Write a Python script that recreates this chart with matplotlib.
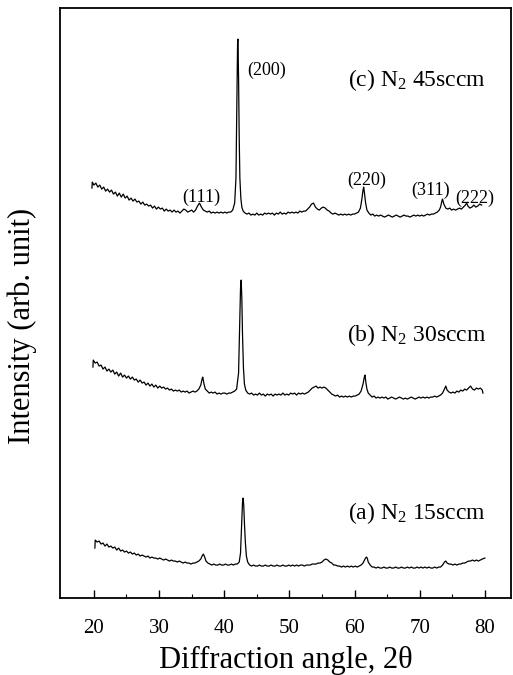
import matplotlib
matplotlib.use("Agg")
import matplotlib.pyplot as plt

plt.rcParams["font.family"] = ["Liberation Serif", "DejaVu Serif"]
plt.rcParams["mathtext.fontset"] = "custom"
plt.rcParams["mathtext.rm"] = "Liberation Serif"
plt.rcParams["mathtext.it"] = "Liberation Serif:italic"

# --- XRD patterns: (2theta, intensity in arb. unit) ---
pattern_a = [
    (20.15, 50), (20.2, 58), (20.5, 56), (20.8, 57), (21.1, 54), (21.4, 55), (21.7, 52),
    (22.0, 54), (22.3, 51), (22.6, 52), (22.9, 50), (23.2, 51), (23.5, 48), (23.8, 50),
    (24.1, 47), (24.4, 48), (24.7, 46), (25.0, 47), (25.3, 45), (25.6, 46), (25.9, 44),
    (26.2, 45), (26.5, 43), (26.8, 44), (27.1, 42), (27.4, 43), (27.7, 42), (28.0, 41),
    (28.3, 42), (28.6, 40), (28.9, 41), (29.2, 40), (29.5, 40), (29.8, 39), (30.1, 40),
    (30.4, 39), (30.7, 38), (31.0, 39), (31.3, 38), (31.6, 37), (31.9, 38), (32.2, 37),
    (32.5, 37), (32.8, 36), (33.1, 37), (33.4, 36), (33.7, 35), (34.0, 36), (34.3, 35),
    (34.6, 35), (34.9, 34), (35.2, 35), (35.5, 35), (35.8, 36), (36.1, 37), (36.4, 39),
    (36.6, 42), (36.8, 44), (37.0, 41), (37.2, 37), (37.5, 35), (37.8, 34), (38.1, 33),
    (38.4, 34), (38.7, 33), (39.0, 33), (39.3, 34), (39.6, 33), (39.9, 33), (40.2, 34),
    (40.5, 33), (40.8, 33), (41.1, 34), (41.4, 33), (41.7, 34), (42.0, 34), (42.3, 36),
    (42.5, 45), (42.65, 70), (42.8, 95), (42.9, 100), (43.0, 92), (43.1, 75), (43.25, 55),
    (43.4, 42), (43.6, 36), (43.9, 33), (44.2, 32), (44.5, 33), (44.8, 32), (45.1, 32),
    (45.4, 33), (45.7, 32), (46.0, 32), (46.3, 33), (46.6, 32), (46.9, 32), (47.2, 33),
    (47.5, 32), (47.8, 32), (48.1, 33), (48.4, 32), (48.7, 32), (49.0, 33), (49.3, 32),
    (49.6, 32), (49.9, 33), (50.2, 32), (50.5, 33), (50.8, 32), (51.1, 33), (51.4, 32),
    (51.7, 33), (52.0, 33), (52.3, 32), (52.6, 33), (52.9, 33), (53.2, 33), (53.5, 34),
    (53.8, 34), (54.1, 34), (54.4, 35), (54.7, 35), (55.0, 36), (55.3, 38), (55.6, 39),
    (55.9, 38), (56.2, 36), (56.5, 35), (56.8, 33), (57.1, 33), (57.4, 32), (57.7, 32),
    (58.0, 31), (58.3, 32), (58.6, 31), (58.9, 32), (59.2, 31), (59.5, 32), (59.8, 31),
    (60.1, 32), (60.4, 31), (60.7, 32), (61.0, 33), (61.3, 35), (61.6, 39), (61.8, 41),
    (61.95, 40), (62.1, 36), (62.4, 33), (62.7, 31), (63.0, 31), (63.3, 30), (63.6, 31),
    (63.9, 30), (64.2, 30), (64.5, 31), (64.8, 30), (65.1, 30), (65.4, 31), (65.7, 30),
    (66.0, 30), (66.3, 31), (66.6, 30), (66.9, 30), (67.2, 31), (67.5, 30), (67.8, 30),
    (68.1, 31), (68.4, 30), (68.7, 31), (69.0, 30), (69.3, 30), (69.6, 31), (69.9, 30),
    (70.2, 31), (70.5, 30), (70.8, 31), (71.1, 30), (71.4, 31), (71.7, 30), (72.0, 30),
    (72.3, 31), (72.6, 30), (72.9, 31), (73.2, 31), (73.5, 33), (73.8, 36), (74.0, 37),
    (74.2, 35), (74.5, 34), (74.8, 34), (75.1, 33), (75.4, 34), (75.7, 33), (76.0, 34),
    (76.3, 34), (76.6, 35), (76.9, 35), (77.2, 36), (77.5, 37), (77.8, 37), (78.1, 38),
    (78.4, 37), (78.7, 38), (79.0, 37), (79.3, 38), (79.6, 39), (80.0, 40),
]

pattern_b = [
    (19.85, 231), (19.9, 238), (20.2, 235), (20.5, 236), (20.8, 232), (21.1, 233), (21.4, 229),
    (21.7, 231), (22.0, 227), (22.3, 229), (22.6, 226), (22.9, 228), (23.2, 224), (23.5, 226),
    (23.8, 222), (24.1, 225), (24.4, 221), (24.7, 223), (25.0, 220), (25.3, 222), (25.6, 219),
    (25.9, 221), (26.2, 218), (26.5, 219), (26.8, 216), (27.1, 218), (27.4, 215), (27.7, 216),
    (28.0, 213), (28.3, 215), (28.6, 212), (28.9, 214), (29.2, 211), (29.5, 213), (29.8, 210),
    (30.1, 212), (30.4, 210), (30.7, 211), (31.0, 209), (31.3, 210), (31.6, 208), (31.9, 209),
    (32.2, 207), (32.5, 208), (32.8, 207), (33.1, 208), (33.4, 206), (33.7, 207), (34.0, 206),
    (34.3, 207), (34.6, 205), (34.9, 206), (35.2, 207), (35.5, 206), (35.8, 207), (36.1, 209),
    (36.4, 213), (36.6, 219), (36.7, 221), (36.9, 214), (37.1, 209), (37.4, 207), (37.7, 205),
    (38.0, 206), (38.3, 205), (38.6, 206), (38.9, 204), (39.2, 205), (39.5, 204), (39.8, 205),
    (40.1, 205), (40.4, 204), (40.7, 205), (41.0, 205), (41.3, 206), (41.6, 207), (41.9, 209),
    (42.2, 225), (42.35, 270), (42.5, 310), (42.6, 318), (42.7, 300), (42.8, 265), (42.95, 230),
    (43.1, 214), (43.3, 208), (43.6, 205), (43.9, 204), (44.2, 205), (44.5, 203), (44.8, 204),
    (45.1, 203), (45.4, 205), (45.7, 203), (46.0, 204), (46.3, 202), (46.6, 204), (46.9, 203),
    (47.2, 204), (47.5, 202), (47.8, 204), (48.1, 203), (48.4, 204), (48.7, 203), (49.0, 205),
    (49.3, 203), (49.6, 204), (49.9, 203), (50.2, 205), (50.5, 204), (50.8, 205), (51.1, 203),
    (51.4, 205), (51.7, 204), (52.0, 205), (52.3, 204), (52.6, 205), (52.9, 206), (53.2, 208),
    (53.5, 210), (53.8, 211), (54.1, 212), (54.4, 210), (54.7, 211), (55.0, 210), (55.3, 211),
    (55.6, 210), (55.9, 208), (56.2, 206), (56.5, 204), (56.8, 203), (57.1, 202), (57.4, 203),
    (57.7, 201), (58.0, 202), (58.3, 201), (58.6, 202), (58.9, 201), (59.2, 202), (59.5, 201),
    (59.8, 202), (60.1, 202), (60.4, 203), (60.7, 204), (61.0, 207), (61.3, 214), (61.5, 221),
    (61.6, 223), (61.75, 215), (61.9, 209), (62.1, 205), (62.4, 203), (62.7, 201), (63.0, 202),
    (63.3, 200), (63.6, 201), (63.9, 200), (64.2, 201), (64.5, 200), (64.8, 201), (65.1, 199),
    (65.4, 200), (65.7, 201), (66.0, 200), (66.3, 199), (66.6, 200), (66.9, 201), (67.2, 200),
    (67.5, 199), (67.8, 200), (68.1, 199), (68.4, 200), (68.7, 201), (69.0, 200), (69.3, 199),
    (69.6, 200), (69.9, 201), (70.2, 200), (70.5, 201), (70.8, 200), (71.1, 201), (71.4, 200),
    (71.7, 201), (72.0, 201), (72.3, 202), (72.6, 201), (72.9, 202), (73.2, 203), (73.5, 205),
    (73.8, 209), (74.0, 212), (74.2, 208), (74.5, 206), (74.8, 205), (75.1, 206), (75.4, 205),
    (75.7, 207), (76.0, 206), (76.3, 208), (76.6, 207), (76.9, 209), (77.2, 208), (77.5, 210),
    (77.8, 212), (78.1, 209), (78.4, 208), (78.7, 210), (79.0, 209), (79.3, 210), (79.6, 208),
    (79.7, 205),
]

pattern_c = [
    (19.7, 410), (19.75, 416), (20.0, 413), (20.3, 415), (20.6, 411), (20.9, 413), (21.2, 409),
    (21.5, 411), (21.8, 407), (22.1, 409), (22.4, 406), (22.7, 408), (23.0, 404), (23.3, 406),
    (23.6, 402), (23.9, 405), (24.2, 401), (24.5, 404), (24.8, 400), (25.1, 402), (25.4, 398),
    (25.7, 400), (26.0, 397), (26.3, 399), (26.6, 396), (26.9, 397), (27.2, 394), (27.5, 396),
    (27.8, 393), (28.1, 394), (28.4, 392), (28.7, 393), (29.0, 390), (29.3, 392), (29.6, 389),
    (29.9, 391), (30.2, 389), (30.5, 390), (30.8, 387), (31.1, 389), (31.4, 387), (31.7, 388),
    (32.0, 386), (32.3, 388), (32.6, 386), (32.9, 387), (33.2, 385), (33.5, 387), (33.8, 389),
    (34.1, 388), (34.4, 386), (34.7, 387), (35.0, 388), (35.3, 386), (35.6, 388), (35.9, 392),
    (36.2, 395), (36.5, 391), (36.8, 388), (37.1, 387), (37.4, 386), (37.7, 387), (38.0, 385),
    (38.3, 386), (38.6, 385), (38.9, 386), (39.2, 385), (39.5, 386), (39.8, 385), (40.1, 386),
    (40.4, 385), (40.7, 386), (41.0, 386), (41.3, 388), (41.6, 395), (41.8, 420), (41.95, 500),
    (42.05, 556), (42.1, 559), (42.2, 520), (42.3, 460), (42.4, 420), (42.55, 400), (42.7, 391),
    (42.9, 387), (43.2, 385), (43.5, 384), (43.8, 385), (44.1, 383), (44.4, 384), (44.7, 383),
    (45.0, 385), (45.3, 383), (45.6, 384), (45.9, 383), (46.2, 385), (46.5, 384), (46.8, 385),
    (47.1, 384), (47.4, 385), (47.7, 383), (48.0, 385), (48.3, 384), (48.6, 386), (48.9, 384),
    (49.2, 385), (49.5, 384), (49.8, 386), (50.1, 385), (50.4, 386), (50.7, 385), (51.0, 386),
    (51.3, 385), (51.6, 387), (51.9, 386), (52.2, 387), (52.5, 387), (52.8, 389), (53.1, 391),
    (53.4, 394), (53.7, 395), (54.0, 391), (54.3, 389), (54.6, 388), (54.9, 390), (55.2, 391),
    (55.5, 390), (55.8, 388), (56.1, 387), (56.4, 385), (56.7, 384), (57.0, 385), (57.3, 384),
    (57.6, 383), (57.9, 384), (58.2, 383), (58.5, 384), (58.8, 383), (59.1, 384), (59.4, 383),
    (59.7, 384), (60.0, 384), (60.3, 385), (60.6, 386), (60.9, 390), (61.1, 398), (61.3, 408),
    (61.4, 411), (61.5, 406), (61.7, 395), (61.9, 388), (62.2, 385), (62.5, 383), (62.8, 384),
    (63.1, 382), (63.4, 383), (63.7, 382), (64.0, 383), (64.3, 382), (64.6, 381), (64.9, 382),
    (65.2, 383), (65.5, 382), (65.8, 381), (66.1, 382), (66.4, 383), (66.7, 382), (67.0, 381),
    (67.3, 382), (67.6, 383), (67.9, 382), (68.2, 382), (68.5, 381), (68.8, 382), (69.1, 383),
    (69.4, 382), (69.7, 383), (70.0, 382), (70.3, 383), (70.6, 382), (70.9, 383), (71.2, 384),
    (71.5, 383), (71.8, 384), (72.1, 384), (72.4, 385), (72.7, 386), (73.0, 388), (73.2, 391),
    (73.4, 397), (73.5, 399), (73.7, 394), (74.0, 390), (74.3, 389), (74.6, 390), (74.9, 388),
    (75.2, 389), (75.5, 388), (75.8, 389), (76.1, 390), (76.4, 389), (76.7, 391), (77.0, 393),
    (77.2, 395), (77.4, 392), (77.7, 390), (78.0, 391), (78.3, 393), (78.6, 391), (78.9, 392),
    (79.2, 394), (79.5, 393),
]

sample_labels = [r"(a) N$_2$ 15sccm", r"(b) N$_2$ 30sccm", r"(c) N$_2$ 45sccm"]
sample_label_pos = [(69.6, 85), (69.6, 263), (69.6, 518)]

peak_labels = ["(111)", "(200)", "(220)", "(311)", "(222)"]
peak_label_pos = [(36.5, 401), (46.5, 528), (61.8, 418), (71.7, 408), (78.5, 400)]

xticks_major = [20, 30, 40, 50, 60, 70, 80]
xticks_minor = [25, 35, 45, 55, 65, 75]

fig = plt.figure(figsize=(5.13, 6.75), dpi=100)
ax = fig.add_axes([0.117, 0.114, 0.879, 0.874])

for pattern in (pattern_a, pattern_b, pattern_c):
    angle, counts = zip(*pattern)
    ax.plot(angle, counts, color="black", linewidth=0.9)

for text, (x, y) in zip(sample_labels, sample_label_pos):
    ax.text(x, y, text, ha="center", va="center", fontsize=17)

for text, (x, y) in zip(peak_labels, peak_label_pos):
    ax.text(x, y, text, ha="center", va="center", fontsize=13)

ax.set_xlim(14.8, 84)
ax.set_ylim(0, 590)
ax.set_xticks(xticks_major)
ax.set_xticks(xticks_minor, minor=True)
ax.tick_params(axis="x", which="major", direction="in", length=6, width=1,
               labelsize=15, pad=15)
ax.tick_params(axis="x", which="minor", direction="in", length=3, width=0.8)
ax.set_yticks([])

for side in ("left", "bottom", "top", "right"):
    ax.spines[side].set_linewidth(1.3)

ax.set_xlabel("Diffraction angle, 2θ", fontsize=22, labelpad=6)
ax.set_ylabel("Intensity (arb. unit)", fontsize=22)
ax.yaxis.set_label_coords(-0.051, 0.461)

fig.savefig("out.png", dpi=100)
